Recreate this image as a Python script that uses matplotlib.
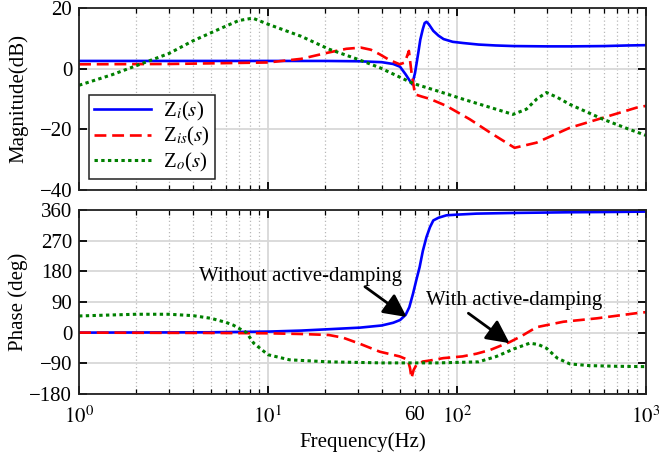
import numpy as np
import matplotlib
matplotlib.use("Agg")
import matplotlib.pyplot as plt
from matplotlib.ticker import LogLocator, FuncFormatter, NullFormatter

plt.rcParams['font.family'] = ['Liberation Serif', 'DejaVu Serif']
plt.rcParams['mathtext.fontset'] = 'stix'
plt.rcParams['font.size'] = 15

#~~~~~~~~~~~~~~~~~~~~~~~~~~~~~~~~~~~~~~~~~~~~~
# data (Hz, dB / deg)
#~~~~~~~~~~~~~~~~~~~~~~~~~~~~~~~~~~~~~~~~~~~~~
f_zi_mag = [1, 5, 10, 20, 30, 40, 46, 50, 53.5, 56, 58, 60, 62.5, 64, 66, 67.5, 69, 71,
            75, 80, 85, 95, 108, 130, 160, 200, 300, 400, 600, 800, 1000]
zi_mag = [2.5, 2.5, 2.5, 2.5, 2.4, 2.1, 1.5, 0.6, -1.9, -3.8, -5.2, -1.5, 5.3, 9.5, 13.0,
          15.0, 15.4, 14.6, 12.4, 10.8, 9.7, 8.8, 8.4, 7.9, 7.6, 7.4, 7.3, 7.3, 7.4, 7.6, 7.7]

f_zis_mag = [1, 3, 10, 15, 21, 26, 31, 35, 39, 44, 49.8, 53, 55.7, 57.5, 60, 65, 72, 88,
             117, 150, 202, 264, 396, 594, 890, 1000]
zis_mag = [1.4, 1.5, 2.0, 3.2, 5.3, 6.5, 6.9, 6.2, 4.7, 2.8, 1.4, 2.0, 5.8, -1.3, -8.5,
           -9.2, -10.0, -12.3, -16.7, -21.1, -26.1, -24.4, -19.5, -16.2, -12.9, -12.3]

f_zo_mag = [1, 1.5, 2, 3, 4, 5, 6, 7, 8.3, 10, 12, 15, 21, 30, 39, 58.6, 80, 108, 150,
            198, 233, 265, 298, 340, 396, 594, 800, 1000]
zo_mag = [-5.5, -2.0, 0.9, 5.0, 9.1, 11.8, 14.0, 15.8, 16.6, 14.6, 12.8, 10.6, 6.4, 3.0,
          0.3, -4.9, -7.5, -10.1, -12.8, -15.1, -13.4, -10.0, -7.9, -9.5, -11.8, -16.7,
          -19.8, -22.0]

f_zi_ph = [1, 5, 10, 15, 21, 30.7, 40, 46, 50, 53.5, 56, 58.6, 61, 63.5, 66, 69, 72, 75,
           80, 88, 100, 127, 200, 400, 700, 1000]
zi_ph = [0, 1, 3, 6, 10, 14.7, 21, 29, 37, 52, 75, 115, 155, 193, 240, 281, 310, 330,
         338, 345, 347, 350, 352, 354, 355, 356]

f_zis_ph = [1, 5, 10, 15, 21, 25, 30.7, 39, 49.8, 55, 56.5, 57.5, 59, 61, 66, 72, 84.7,
            107, 127, 150, 190, 220, 264, 366, 550, 945, 1000]
zis_ph = [0, -1, -2, -4, -7, -15, -33, -56, -70, -80, -105, -134, -110, -95, -85, -82,
          -75, -70, -62, -51, -28, -10, 16, 32, 42, 59, 60]

f_zo_ph = [1, 1.5, 2, 3, 4, 5, 6, 6.55, 7.7, 8.4, 10, 13, 21, 40, 80, 130, 162, 200,
           243, 270, 298, 340, 396, 500, 700, 1000]
zo_ph = [49, 52, 54, 54, 50, 42, 30, 22, 0, -31, -65, -80, -86, -89, -89, -86, -70, -48,
         -31, -35, -46, -75, -92, -97, -99, -100]

labels = [r'Z$_{i}$($s$)', r'Z$_{is}$($s$)', r'Z$_{o}$($s$)']
mag_ticks = [-40, -20, 0, 20]
ph_ticks = [-180, -90, 0, 90, 180, 270, 360]
dec_ticks = [1, 10, 100, 1000]
dec_labels = [r'$10^{0}$', r'$10^{1}$', r'$10^{2}$', r'$10^{3}$']
extra_tick = 60

colors = ['#0000ff', '#ff0000', '#008000']
styles = [dict(ls='-', lw=1.9),
          dict(ls=(0, (4.5, 2.2)), lw=1.9),
          dict(ls=(0, (1.1, 1.1)), lw=2.2)]

fig = plt.figure(figsize=(6.59, 4.59), dpi=100)
ax1 = fig.add_axes([0.120, 0.586, 0.860, 0.397])
ax2 = fig.add_axes([0.120, 0.142, 0.860, 0.400])


def style_axis(ax):
    ax.set_xscale('log')
    ax.set_xlim(1, 1000)
    ax.set_xticks(dec_ticks)
    ax.xaxis.set_minor_locator(LogLocator(base=10, subs=np.arange(2, 10)))
    ax.grid(True, which='major', color='#d8d8d8', lw=1.3, ls='-')
    ax.grid(True, which='minor', axis='x', color='#b8b8b8', lw=0.9, ls=(0, (1, 2)))
    ax.set_axisbelow(True)
    ax.tick_params(which='both', direction='in', top=True, right=True, pad=5)
    ax.tick_params(axis='x', which='both', pad=9)
    ax.tick_params(which='major', length=6, width=1.3)
    ax.tick_params(which='minor', length=3.5, width=0.9)
    for s in ax.spines.values():
        s.set_linewidth(1.3)
        s.set_color('#222222')


# magnitude
style_axis(ax1)
ax1.plot(f_zi_mag, zi_mag, color=colors[0], label=labels[0], **styles[0])
ax1.plot(f_zis_mag, zis_mag, color=colors[1], label=labels[1], **styles[1])
ax1.plot(f_zo_mag, zo_mag, color=colors[2], label=labels[2], **styles[2])
ax1.set_ylim(-40, 20)
ax1.set_yticks(mag_ticks)
ax1.xaxis.set_major_formatter(NullFormatter())
ax1.xaxis.set_minor_formatter(NullFormatter())
ax1.set_ylabel('Magnitude(dB)')
ax1.yaxis.set_label_coords(-0.09, 0.5)
leg = ax1.legend(loc='lower left', bbox_to_anchor=(0.017, 0.06), fancybox=False,
                 edgecolor='#222222', framealpha=1, handlelength=2.75,
                 borderpad=0.25, borderaxespad=0, labelspacing=0.12,
                 handletextpad=0.55, fontsize=15)
leg.get_frame().set_linewidth(1.1)

# phase
style_axis(ax2)
ax2.plot(f_zi_ph, zi_ph, color=colors[0], **styles[0])
ax2.plot(f_zis_ph, zis_ph, color=colors[1], **styles[1])
ax2.plot(f_zo_ph, zo_ph, color=colors[2], **styles[2])
ax2.set_ylim(-180, 360)
ax2.set_yticks(ph_ticks)
ax2.set_xticklabels(dec_labels)
ax2.xaxis.set_minor_formatter(FuncFormatter(
    lambda v, pos: str(extra_tick) if abs(v - extra_tick) < 1e-6 else ''))
ax2.set_ylabel('Phase (deg)')
ax2.yaxis.set_label_coords(-0.09, 0.5)
ax2.set_xlabel('Frequency(Hz)', labelpad=3)

arrow = dict(arrowstyle='-|>,head_length=0.5,head_width=0.25', mutation_scale=28,
             lw=2.0, color='k', shrinkA=0, shrinkB=0)
ax2.text(4.3, 151, 'Without active-damping', ha='left', va='baseline')
ax2.annotate('', xy=(54.2, 46), xytext=(32.6, 135), arrowprops=arrow)
ax2.text(69, 82, 'With active-damping', ha='left', va='baseline')
ax2.annotate('', xy=(190, -31), xytext=(115, 57), arrowprops=arrow)

fig.savefig('out.png', dpi=100)
